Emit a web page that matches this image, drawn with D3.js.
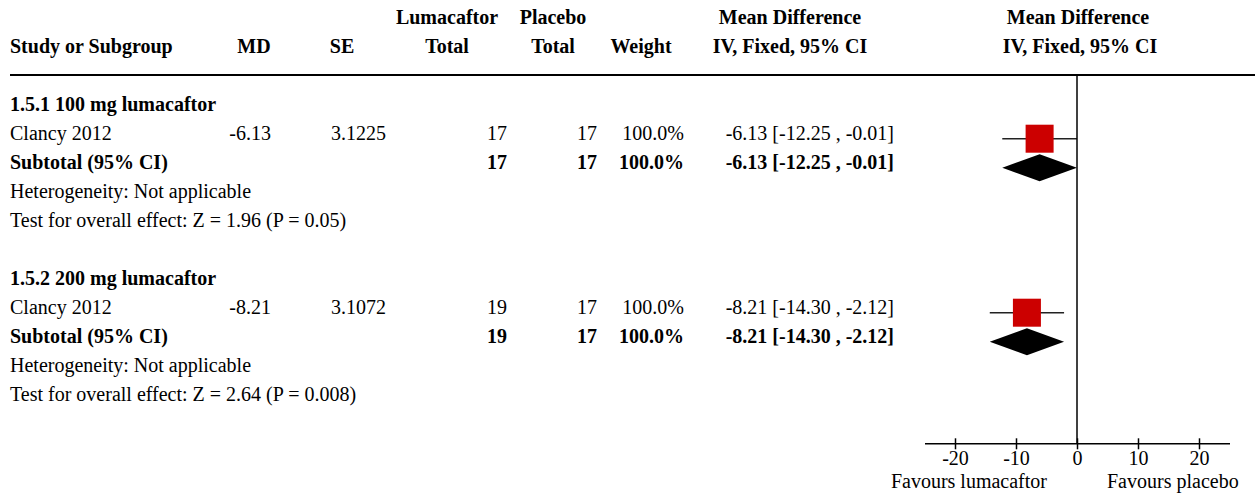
<!DOCTYPE html>
<html>
<head>
<meta charset="utf-8">
<script src="https://cdn.jsdelivr.net/npm/d3@7"></script>
<style>
  body { margin: 0; background: #fff; }
  svg text { font-family: "Liberation Serif", "Times New Roman", serif; font-size: 20px; fill: #000; }
  .b { font-weight: bold; }
</style>
</head>
<body>
<div id="container"></div>
<script>
/* CONSTANTS AND GLOBALS */
const width = 1255, height = 495;

// data
const sections = ["1.5.1 100 mg lumacaftor", "1.5.2 200 mg lumacaftor"];
const studies = ["Clancy 2012", "Clancy 2012"];
const md = [-6.13, -8.21];
const se = ["3.1225", "3.1072"];
const lumaTotal = [17, 19];
const placeboTotal = [17, 17];
const weight = ["100.0%", "100.0%"];
const ciLow = [-12.25, -14.30];
const ciHigh = [-0.01, -2.12];
const heterogeneity = ["Heterogeneity: Not applicable", "Heterogeneity: Not applicable"];
const overall = ["Test for overall effect: Z = 1.96 (P = 0.05)", "Test for overall effect: Z = 2.64 (P = 0.008)"];
const xTicks = [-20, -10, 0, 10, 20];
const favours = ["Favours lumacaftor", "Favours placebo"];

// plain hyphen minus, like the original
const fmt = v => v.toFixed(2);
const ciText = i => `${fmt(md[i])} [${fmt(ciLow[i])} , ${fmt(ciHigh[i])}]`;

// scales
const xScale = d3.scaleLinear().domain([-25, 25]).range([924.5, 1229.5]);
const rowY = d3.scaleLinear().domain([0, 1]).range([110.7, 139.7]); // row index -> baseline

// column x positions (anchor end for numbers)
const col = { study: 10, md: 271, se: 386, luma: 507, plac: 597, wt: 684, ci: 894 };

const svg = d3.select("#container").append("svg")
  .attr("width", width).attr("height", height);

/* HEADER */
const hdr = svg.append("g");
const head1 = [["Lumacaftor", 447], ["Placebo", 553], ["Mean Difference", 790], ["Mean Difference", 1078]];
const head2 = [["MD", 254], ["SE", 342], ["Total", 447], ["Total", 553], ["Weight", 641], ["IV, Fixed, 95% CI", 790], ["IV, Fixed, 95% CI", 1080]];
hdr.selectAll("text.h1").data(head1).join("text").attr("class", "h1 b")
  .attr("x", d => d[1]).attr("y", 24).attr("text-anchor", "middle").text(d => d[0]);
hdr.selectAll("text.h2").data(head2).join("text").attr("class", "h2 b")
  .attr("x", d => d[1]).attr("y", 53).attr("text-anchor", "middle").text(d => d[0]);
hdr.append("text").attr("class", "b").attr("x", col.study).attr("y", 53).text("Study or Subgroup");

svg.append("line").attr("x1", 10).attr("x2", width).attr("y1", 75).attr("y2", 75)
  .attr("stroke", "#000").attr("stroke-width", 2);

/* ROWS */
sections.forEach((s, i) => {
  const base = i * 6;
  const g = svg.append("g");
  g.append("text").attr("class", "b").attr("x", col.study).attr("y", rowY(base)).text(s);

  // study row
  const ys = rowY(base + 1);
  g.append("text").attr("x", col.study).attr("y", ys).text(studies[i]);
  [[fmt(md[i]), col.md], [se[i], col.se], [lumaTotal[i], col.luma], [placeboTotal[i], col.plac], [weight[i], col.wt], [ciText(i), col.ci]]
    .forEach(([t, x]) => g.append("text").attr("x", x).attr("y", ys).attr("text-anchor", "end").text(t));

  // subtotal row
  const yt = rowY(base + 2);
  g.append("text").attr("class", "b").attr("x", col.study).attr("y", yt).text("Subtotal (95% CI)");
  [[lumaTotal[i], col.luma], [placeboTotal[i], col.plac], [weight[i], col.wt], [ciText(i), col.ci]]
    .forEach(([t, x]) => g.append("text").attr("class", "b").attr("x", x).attr("y", yt).attr("text-anchor", "end").text(t));

  g.append("text").attr("x", col.study).attr("y", rowY(base + 3)).text(heterogeneity[i]);
  g.append("text").attr("x", col.study).attr("y", rowY(base + 4)).text(overall[i]);

  // forest marks
  const cy = ys - 1;
  g.append("line").attr("x1", xScale(ciLow[i])).attr("x2", xScale(ciHigh[i]))
    .attr("y1", cy).attr("y2", cy).attr("stroke", "#222").attr("stroke-width", 1.5);
  const sq = 28;
  g.append("rect").attr("x", xScale(md[i]) - sq / 2).attr("y", cy - sq / 2)
    .attr("width", sq).attr("height", sq).attr("fill", "#cc0000");

  const dy = yt - 1, hh = 13.5;
  g.append("polygon")
    .attr("points", [[xScale(ciLow[i]), dy], [xScale(md[i]), dy - hh], [xScale(ciHigh[i]), dy], [xScale(md[i]), dy + hh]].map(p => p.join(",")).join(" "))
    .attr("fill", "#000");
});

/* AXIS */
const axisY = 443.3;
svg.append("line").attr("x1", xScale(0)).attr("x2", xScale(0)).attr("y1", 75).attr("y2", axisY)
  .attr("stroke", "#000").attr("stroke-width", 1.5);

const xAxis = d3.axisBottom(xScale).tickValues(xTicks).tickSize(6).tickSizeOuter(0).tickFormat(d => String(d));
const ax = svg.append("g").attr("transform", `translate(0,${axisY})`).call(xAxis);
ax.attr("font-size", null).attr("font-family", null);
ax.select(".domain").attr("stroke-width", 1.5);
ax.selectAll(".tick line").attr("y1", -5).attr("y2", 6).attr("stroke-width", 1.5);
ax.selectAll(".tick text").attr("y", 22).attr("dy", 0).attr("fill", "#000");

svg.append("text").attr("x", xScale(0) - 30).attr("y", 488.3).attr("text-anchor", "end").text(favours[0]);
svg.append("text").attr("x", xScale(0) + 30).attr("y", 488.3).attr("text-anchor", "start").text(favours[1]);
</script>
</body>
</html>
